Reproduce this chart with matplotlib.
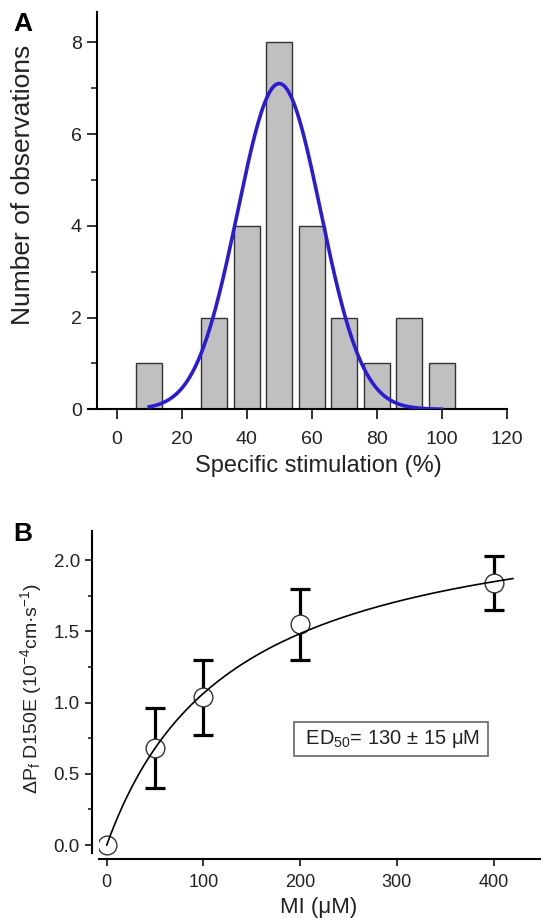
import matplotlib
matplotlib.use("Agg")
import matplotlib.pyplot as plt
import numpy as np

plt.rcParams["font.family"] = ["Liberation Sans", "DejaVu Sans"]
plt.rcParams["mathtext.fontset"] = "custom"
plt.rcParams["mathtext.rm"] = "Liberation Sans"
plt.rcParams["mathtext.it"] = "Liberation Sans"

# Panel A: histogram of specific stimulation
bin_centers = [10, 30, 40, 50, 60, 70, 80, 90, 100]
counts = [1, 2, 4, 8, 4, 2, 1, 2, 1]
# Gaussian fit parameters
fit_amp = 7.1
fit_mean = 50.0
fit_sigma = 12.8

# Panel B: dose response
mi_conc = [0, 50, 100, 200, 400]
delta_pf = [0.0, 0.68, 1.04, 1.55, 1.84]
err_low = [0.0, 0.28, 0.27, 0.25, 0.19]
err_high = [0.0, 0.28, 0.26, 0.25, 0.19]
ed50 = 130.0
pmax = 2.45

W, H = 541, 918
fig = plt.figure(figsize=(W / 100, H / 100), dpi=100)
ink = "#222222"

# ---------- Panel A ----------
axA = fig.add_axes([87.9 / W, 1 - 409.3 / H, (506.7 - 87.9) / W, (409.3 - 12) / H])
axA.bar(bin_centers, counts, width=8, color="#c0c0c0", edgecolor="#333333", linewidth=1.0, zorder=2)
xs = np.linspace(10, 100, 300)
axA.plot(xs, fit_amp * np.exp(-(xs - fit_mean) ** 2 / (2 * fit_sigma ** 2)),
         color="#2a1bd4", lw=2.6, zorder=3)
axA.set_xlim(-8.86, 120)
axA.set_ylim(0, 8.66)
axA.spines["left"].set_position(("data", -6.0))
for s in ["top", "right"]:
    axA.spines[s].set_visible(False)
axA.spines["left"].set_linewidth(1.5)
axA.spines["bottom"].set_linewidth(1.5)
axA.set_xticks(range(0, 121, 20))
axA.set_yticks([0, 2, 4, 6, 8])
axA.set_yticks([1, 3, 5, 7], minor=True)
axA.tick_params(axis="both", which="major", direction="out", length=7, width=1.3,
                labelsize=14, colors=ink, pad=4)
axA.tick_params(axis="y", which="minor", direction="out", length=4, width=1.2, colors=ink)
axA.tick_params(axis="x", pad=8.5)
fig.text(318 / W, 1 - 466 / H, "Specific stimulation (%)", ha="center", va="center",
         fontsize=17, color=ink)
fig.text(23 / W, 1 - 185 / H, "Number of observations", ha="center", va="center",
         rotation=90, fontsize=19, color=ink)
fig.text(23 / W, 1 - 24 / H, "A", ha="center", va="center", fontsize=19,
         fontweight="bold", color="black")

# ---------- Panel B ----------
axB = fig.add_axes([99.3 / W, 1 - 859 / H, (541 - 99.3) / W, (859 - 530.7) / H])
axB.errorbar(mi_conc[1:], delta_pf[1:], yerr=[err_low[1:], err_high[1:]], fmt="none",
             ecolor="black", elinewidth=2.3, capsize=7.2, capthick=2.3, zorder=3)
axB.plot(mi_conc, delta_pf, "o", ms=13.5, mfc="white", mec="#333333", mew=1.0, zorder=4)
xf = np.linspace(0, 420, 300)
axB.plot(xf, pmax * xf / (ed50 + xf), color="black", lw=1.2, zorder=5)
axB.set_xlim(-7.7, 449)
axB.set_ylim(-0.098, 2.207)
for s in ["top", "right"]:
    axB.spines[s].set_visible(False)
axB.spines["left"].set_position(("outward", 5.0))
axB.spines["left"].set_bounds(-0.056, 2.207)
axB.spines["left"].set_linewidth(1.5)
axB.spines["bottom"].set_linewidth(1.5)
axB.set_xticks([0, 100, 200, 300, 400])
axB.set_yticks([0.0, 0.5, 1.0, 1.5, 2.0])
axB.set_yticks([0.25, 0.75, 1.25, 1.75], minor=True)
axB.yaxis.set_major_formatter(matplotlib.ticker.FormatStrFormatter("%.1f"))
axB.tick_params(axis="both", which="major", direction="out", length=5, width=1.3,
                labelsize=13.5, colors=ink, pad=4)
axB.tick_params(axis="y", which="minor", direction="out", length=3, width=1.2, colors=ink)
axB.tick_params(axis="x", labelsize=13, pad=5.5)
axB.text(294, 0.744, r" ED$_{50}$= 130 ± 15 μM ", ha="center", va="center", fontsize=14.5,
         color=ink, bbox=dict(boxstyle="square,pad=0.3", fc="white", ec="#666666", lw=1.2))
fig.text(319 / W, 1 - 907 / H, "MI (μM)", ha="center", va="center", fontsize=16, color=ink)
fig.text(31 / W, 1 - 688 / H, r"ΔP$_f$ D150E (10$^{-4}$cm·s$^{-1}$)", ha="center",
         va="center", rotation=90, fontsize=14, color=ink)
fig.text(22.5 / W, 1 - 534 / H, "B", ha="center", va="center", fontsize=19,
         fontweight="bold", color="black")

fig.savefig("out.png", dpi=100)
